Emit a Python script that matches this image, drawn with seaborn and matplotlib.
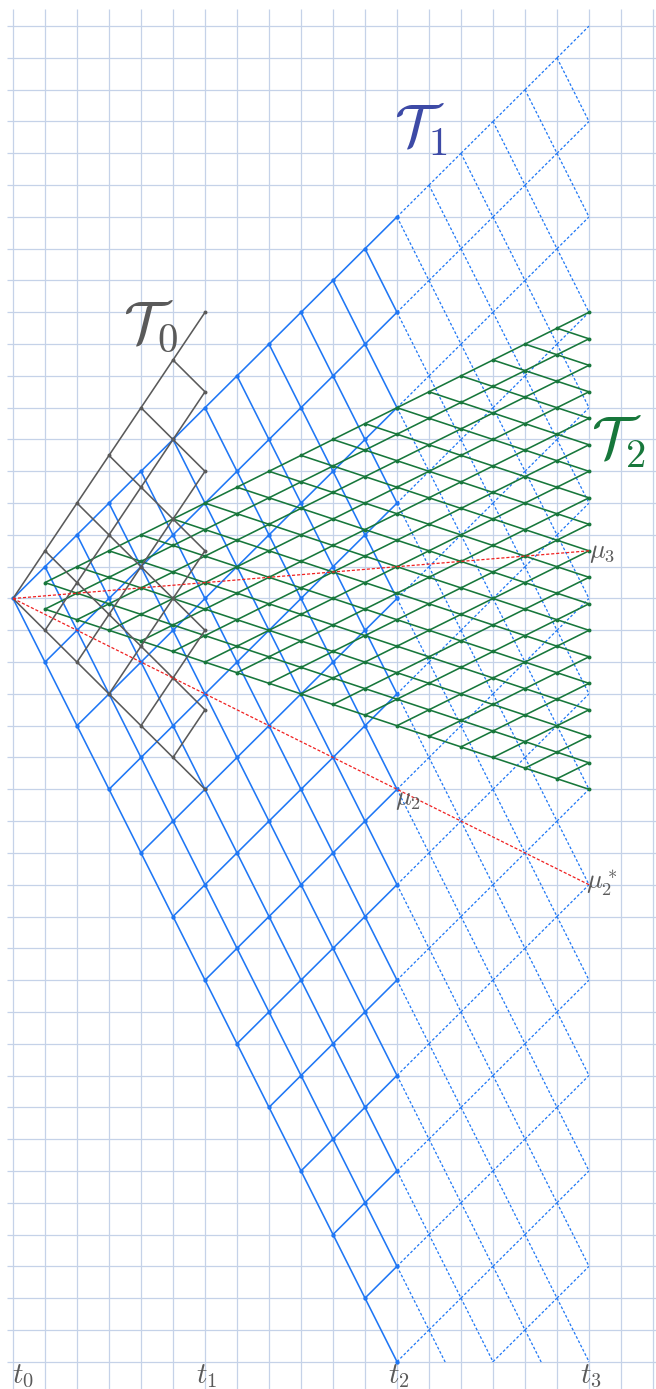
import numpy as np
import matplotlib
matplotlib.use("Agg")
import matplotlib.pyplot as plt
import seaborn as sns
import pandas as pd
from matplotlib.collections import LineCollection
from matplotlib.patches import Rectangle

# ---------------- data ----------------
time_ticks = [0, 6, 12, 18]
time_labels = ["$t_0$", "$t_1$", "$t_2$", "$t_3$"]

# tree T0 (grey): up / down move per step, first and last step
T0_moves = [1.5, -1.0]
T0_steps = [0, 6]
# tree T1 (blue): solid part and dashed continuation
T1_moves = [1.0, -2.0]
T1_solid_steps = [0, 12]
T1_dashed_steps = [12, 18]
# tree T2 (green)
T2_moves = [0.5, -1.0 / 3.0]
T2_steps = [1, 18]

# red paths from the root to the marked nodes
root_point = [0, 0]
mu3_point = [18, 1.5]
mu2_point = [12, -6]
mu2s_point = [18, -9]

tree_labels = ["$\\mathcal{T}_0$", "$\\mathcal{T}_1$", "$\\mathcal{T}_2$"]
mu_labels = ["$\\mu_3$", "$\\mu_2$", "$\\mu_2^*$"]

# ---------------- style ----------------
sns.set_style("white")
plt.rcParams["mathtext.fontset"] = "cm"
plt.rcParams["font.family"] = ["DejaVu Sans"]

BLUE = "#1f77f5"
GREEN = "#17773b"
GREY = "#5a5a5a"
RED = "#f02020"
GRID = "#c5d2e8"


def lattice(moves, first, last):
    up, down = moves
    segs, nodes = [], []
    for n in range(first, last + 1):
        for k in range(n + 1):
            y = k * up + (n - k) * down
            nodes.append((n, y))
            if n < last:
                segs.append([(n, y), (n + 1, y + up)])
                segs.append([(n, y), (n + 1, y + down)])
    return segs, pd.DataFrame(nodes, columns=["t", "x"])


fig = plt.figure(figsize=(6.56, 13.89), dpi=100)
ax = fig.add_axes([0, 0, 1, 1])
px_x, px_y = 32.0, 31.8
x0_px, y0_px = 13.0, 598.5
ax.set_xlim(-x0_px / px_x, (656 - x0_px) / px_x)
ax.set_ylim(-(1389 - y0_px) / px_y, y0_px / px_y)
ax.axis("off")

# grid
ax.vlines(np.arange(0, 21), -30, 18.55, color=GRID, lw=0.9, zorder=0)
ax.hlines(np.arange(-24, 19), -0.19, 21, color=GRID, lw=0.9, zorder=0)

clip = Rectangle((-1, -24), 40, 60, transform=ax.transData)

# T1 blue
b_seg_d, b_nodes_d = lattice(T1_moves, *T1_dashed_steps)
lc = LineCollection(b_seg_d, colors=BLUE, lw=0.9, linestyles=(0, (2.2, 1.6)), zorder=2)
ax.add_collection(lc)
lc.set_clip_path(clip)
b_seg, b_nodes = lattice(T1_moves, *T1_solid_steps)
lc = LineCollection(b_seg, colors=BLUE, lw=1.15, zorder=3)
ax.add_collection(lc)
lc.set_clip_path(clip)
sns.scatterplot(data=b_nodes[b_nodes.x >= -24], x="t", y="x", color=BLUE, s=10,
                linewidth=0, ax=ax, zorder=3)

# T2 green
g_seg, g_nodes = lattice(T2_moves, *T2_steps)
ax.add_collection(LineCollection(g_seg, colors=GREEN, lw=1.15, zorder=4))
sns.scatterplot(data=g_nodes, x="t", y="x", color=GREEN, s=8, linewidth=0, ax=ax, zorder=4)

# T0 grey
k_seg, k_nodes = lattice(T0_moves, *T0_steps)
ax.add_collection(LineCollection(k_seg, colors=GREY, lw=1.15, zorder=5))
sns.scatterplot(data=k_nodes[k_nodes.t > 0], x="t", y="x", color=GREY, s=8, linewidth=0,
                ax=ax, zorder=5)

# red dotted paths
ax.plot([root_point[0], mu3_point[0]], [root_point[1], mu3_point[1]], color=RED, lw=0.9,
        ls=(0, (2.5, 1.5)), zorder=6)
ax.plot([root_point[0], mu2_point[0], mu2s_point[0]],
        [root_point[1], mu2_point[1], mu2s_point[1]], color=RED, lw=0.9,
        ls=(0, (2.5, 1.5)), zorder=6)

# labels
ax.text(4.3, 8.55, tree_labels[0], color=GREY, fontsize=42, ha="center", va="center", zorder=7)
ax.text(12.75, 14.75, tree_labels[1], color="#3d4aa6", fontsize=42, ha="center", va="center", zorder=7)
ax.text(18.9, 4.95, tree_labels[2], color=GREEN, fontsize=42, ha="center", va="center", zorder=7)

ax.text(mu3_point[0] + 0.0, mu3_point[1] - 0.05, mu_labels[0], color=GREY, fontsize=19,
        ha="left", va="center", zorder=7)
ax.text(mu2_point[0] - 0.05, mu2_point[1] - 0.3, mu_labels[1], color=GREY, fontsize=19,
        ha="left", va="center", zorder=7)
ax.text(mu2s_point[0] - 0.08, mu2s_point[1] + 0.05, mu_labels[2], color=GREY, fontsize=19,
        ha="left", va="center", zorder=7)

for i, (tt, lab) in enumerate(zip(time_ticks, time_labels)):
    ax.text(tt + (0.3 if i == 0 else 0.05), -24.45, lab, color=GREY, fontsize=21,
            ha="center", va="center", zorder=7)

fig.savefig("out.png", dpi=100)
